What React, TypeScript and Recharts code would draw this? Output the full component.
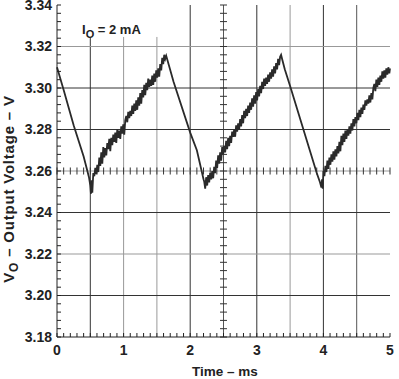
import { LineChart, Line, XAxis, YAxis, ReferenceLine, ReferenceArea } from 'recharts';

// trace pieces, [time ms, volts]
const fall1: [number, number][] = [
  [0, 3.31], [0.1, 3.299], [0.25, 3.282], [0.4, 3.267], [0.48, 3.257], [0.5, 3.253],
];
const rise1: [number, number][] = [
  [0.51, 3.249], [0.52, 3.2555], [0.53, 3.2495], [0.545, 3.259], [0.56, 3.2575], [0.575, 3.2615],
  [0.59, 3.2585], [0.605, 3.263], [0.62, 3.2595], [0.635, 3.2665], [0.65, 3.2625], [0.665, 3.269],
  [0.68, 3.2635], [0.695, 3.2715], [0.71, 3.2665], [0.725, 3.271], [0.74, 3.2675], [0.755, 3.2735],
  [0.77, 3.2705], [0.785, 3.2755], [0.8, 3.2695], [0.815, 3.276], [0.83, 3.2725], [0.845, 3.2775],
  [0.86, 3.274], [0.875, 3.2785], [0.89, 3.2735], [0.905, 3.28], [0.92, 3.276], [0.935, 3.2795],
  [0.95, 3.2755], [0.965, 3.2815], [0.98, 3.278], [0.995, 3.2825], [1.01, 3.2775], [1.025, 3.2845],
  [1.04, 3.2865], [1.055, 3.2835], [1.07, 3.2885], [1.085, 3.2855], [1.1, 3.289], [1.115, 3.2865],
  [1.13, 3.2915], [1.145, 3.2875], [1.16, 3.2925], [1.175, 3.289], [1.19, 3.294], [1.205, 3.2895],
  [1.22, 3.2955], [1.235, 3.2915], [1.25, 3.2975], [1.265, 3.2925], [1.28, 3.299], [1.295, 3.2955],
  [1.31, 3.3015], [1.325, 3.2965], [1.34, 3.3025], [1.355, 3.299], [1.37, 3.3045], [1.385, 3.3005],
  [1.4, 3.304], [1.415, 3.301], [1.43, 3.306], [1.445, 3.3015], [1.46, 3.307], [1.475, 3.303],
  [1.49, 3.3085], [1.505, 3.305], [1.52, 3.3095], [1.535, 3.3055], [1.55, 3.3115], [1.565, 3.3085],
  [1.58, 3.3145], [1.595, 3.3115], [1.61, 3.316], [1.625, 3.314], [1.64, 3.3155],
];
const fall2: [number, number][] = [
  [1.68, 3.311], [1.75, 3.303], [2.0, 3.2785], [2.1, 3.27], [2.2, 3.256],
];
const rise2: [number, number][] = [
  [2.21, 3.255], [2.225, 3.2515], [2.24, 3.257], [2.255, 3.253], [2.27, 3.258], [2.285, 3.2545],
  [2.3, 3.259], [2.315, 3.256], [2.33, 3.26], [2.345, 3.2565], [2.36, 3.262], [2.375, 3.259],
  [2.39, 3.265], [2.405, 3.2615], [2.42, 3.2675], [2.435, 3.2635], [2.45, 3.269], [2.465, 3.265],
  [2.48, 3.2715], [2.495, 3.268], [2.51, 3.272], [2.525, 3.269], [2.54, 3.2745], [2.555, 3.2705],
  [2.57, 3.276], [2.585, 3.272], [2.6, 3.277], [2.615, 3.2735], [2.63, 3.279], [2.645, 3.2765],
  [2.66, 3.28], [2.675, 3.2765], [2.69, 3.282], [2.705, 3.279], [2.72, 3.283], [2.735, 3.28],
  [2.75, 3.285], [2.765, 3.2815], [2.78, 3.287], [2.795, 3.283], [2.81, 3.289], [2.825, 3.2855],
  [2.84, 3.29], [2.855, 3.2865], [2.87, 3.2915], [2.885, 3.288], [2.9, 3.293], [2.915, 3.2895],
  [2.93, 3.295], [2.945, 3.291], [2.96, 3.2965], [2.975, 3.2925], [2.99, 3.298], [3.005, 3.294],
  [3.02, 3.2995], [3.035, 3.296], [3.05, 3.301], [3.065, 3.2975], [3.08, 3.303], [3.095, 3.2995],
  [3.11, 3.3045], [3.125, 3.301], [3.14, 3.305], [3.155, 3.302], [3.17, 3.3065], [3.185, 3.303],
  [3.2, 3.3075], [3.215, 3.3045], [3.23, 3.309], [3.245, 3.3055], [3.26, 3.3105], [3.275, 3.307],
  [3.29, 3.312], [3.305, 3.309], [3.32, 3.314], [3.335, 3.311], [3.35, 3.315], [3.365, 3.316],
  [3.38, 3.314],
];
const fall3: [number, number][] = [
  [3.42, 3.309], [3.5, 3.301], [3.8, 3.2695], [3.9, 3.259], [3.95, 3.2545], [3.97, 3.252],
];
const rise3: [number, number][] = [
  [3.98, 3.256], [3.99, 3.2515], [4.0, 3.26], [4.015, 3.2575], [4.03, 3.2625], [4.045, 3.2595],
  [4.06, 3.265], [4.075, 3.261], [4.09, 3.2665], [4.105, 3.263], [4.12, 3.268], [4.135, 3.2645],
  [4.15, 3.2695], [4.165, 3.2655], [4.18, 3.2705], [4.195, 3.267], [4.21, 3.272], [4.225, 3.2685],
  [4.24, 3.274], [4.255, 3.2695], [4.27, 3.277], [4.285, 3.2725], [4.3, 3.278], [4.315, 3.274],
  [4.33, 3.2795], [4.345, 3.2755], [4.36, 3.28], [4.375, 3.277], [4.39, 3.2815], [4.405, 3.278],
  [4.42, 3.283], [4.435, 3.2795], [4.45, 3.285], [4.465, 3.2815], [4.48, 3.286], [4.495, 3.283],
  [4.51, 3.288], [4.525, 3.2845], [4.54, 3.2895], [4.555, 3.286], [4.57, 3.2905], [4.585, 3.2875],
  [4.6, 3.292], [4.615, 3.2895], [4.63, 3.294], [4.645, 3.2915], [4.66, 3.2945], [4.675, 3.2925],
  [4.69, 3.2965], [4.705, 3.293], [4.72, 3.2975], [4.735, 3.2945], [4.75, 3.3], [4.765, 3.302],
  [4.78, 3.2985], [4.795, 3.304], [4.81, 3.3005], [4.825, 3.305], [4.84, 3.3015], [4.855, 3.306],
  [4.87, 3.303], [4.885, 3.308], [4.9, 3.3045], [4.915, 3.3085], [4.93, 3.305], [4.945, 3.3095],
  [4.96, 3.3065], [4.975, 3.31], [4.99, 3.307], [5.0, 3.3095],
];

const xTicks = [0, 1, 2, 3, 4, 5];
const yTicks = [3.18, 3.2, 3.22, 3.24, 3.26, 3.28, 3.3, 3.32, 3.34];

// scope-style grid, some lines printed lighter than others
const gridX = [0.5, 1, 1.5, 2, 2.5, 3, 3.5, 4, 4.5];
const gridXColor = ['#333', '#999', '#999', '#333', '#555', '#333', '#999', '#333', '#555'];
const gridXTop = [3.3246, 3.3246, 3.3246, 3.34, 3.34, 3.34, 3.34, 3.34, 3.34];
const gridY = [3.2, 3.22, 3.24, 3.26, 3.28, 3.3, 3.32];
const gridYColor = ['#333', '#999', '#333', '#999', '#333', '#333', '#999'];

const minorX = Array.from({ length: 51 }, (_, i) => Math.round(i) / 10);
const minorY = Array.from({ length: 41 }, (_, i) => Math.round((3.18 + i * 0.004) * 1000) / 1000);

const data = [...fall1, ...rise1, ...fall2, ...rise2, ...fall3, ...rise3].map(([t, v]) => ({ t, v }));

const font = '"Liberation Sans", Arial, sans-serif';
const tickStyle = { fontSize: 14, fontWeight: 700, fill: '#222', fontFamily: font };

const isMajorY = (v: number) => yTicks.some((m) => Math.abs(m - v) < 1e-6);
const isMajorX = (v: number) => xTicks.some((m) => Math.abs(m - v) < 1e-6);

function YTitle() {
  return (
    <text x={14} y={189} transform="rotate(-90 14 189)" textAnchor="middle"
      style={{ fontSize: 15, fontWeight: 700, fill: '#222', fontFamily: font, letterSpacing: 0.8 }}>
      V<tspan dy={4} fontSize={12}>O</tspan><tspan dy={-4}> – Output Voltage – V</tspan>
    </text>
  );
}

function XTitle() {
  return (
    <text x={225} y={376} textAnchor="middle"
      style={{ fontSize: 13.5, fontWeight: 700, fill: '#222', fontFamily: font }}>
      Time – ms
    </text>
  );
}

export default function App() {
  return (
    <div style={{ position: 'absolute', left: 0, top: 0, width: 399, height: 379, background: '#fff' }}>
      <LineChart width={399} height={379} data={data} margin={{ top: 5, right: 9, left: 0, bottom: 0 }}>
        <XAxis dataKey="t" type="number" domain={[0, 5]} ticks={minorX} interval={0}
          tickSize={-4} tickMargin={12} height={42} stroke="#222"
          tick={tickStyle} tickFormatter={(v: number) => (isMajorX(v) ? String(v) : '')}
          label={{ content: () => <XTitle /> }} />
        <XAxis xAxisId="top" orientation="top" type="number" domain={[0, 5]} ticks={minorX}
          interval={0} tickSize={-4} height={0} stroke="#222" tickFormatter={() => ''} />
        <YAxis type="number" domain={[3.18, 3.34]} ticks={minorY} interval={0} width={57}
          tickSize={-4} tickMargin={9} stroke="#222" tick={tickStyle}
          tickFormatter={(v: number) => (isMajorY(v) ? v.toFixed(2) : '')}
          label={{ content: () => <YTitle /> }} />
        <YAxis yAxisId="right" orientation="right" type="number" domain={[3.18, 3.34]} ticks={minorY}
          interval={0} width={0} tickSize={-4} stroke="#222" tickFormatter={() => ''} />

        {gridX.map((x, i) => (
          <ReferenceLine key={`gx${x}`} segment={[{ x, y: 3.18 }, { x, y: gridXTop[i] }]}
            stroke={gridXColor[i]} strokeWidth={1} />
        ))}
        {gridY.map((y, i) => (
          <ReferenceLine key={`gy${y}`} y={y} stroke={gridYColor[i]} strokeWidth={1} />
        ))}
        {minorX.map((x) => (
          <ReferenceLine key={`cx${x}`} segment={[{ x, y: 3.2583 }, { x, y: 3.2617 }]}
            stroke="#333" strokeWidth={1} />
        ))}
        {minorY.map((y) => (
          <ReferenceLine key={`cy${y}`} segment={[{ x: 2.4475, y }, { x: 2.5525, y }]}
            stroke="#333" strokeWidth={1} />
        ))}
        <ReferenceArea x1={0.08} x2={1.94} y1={3.3248} y2={3.3384} fill="#fff" fillOpacity={1}
          stroke="none" />

        <Line dataKey="v" type="linear" stroke="#2a2a2a" strokeWidth={1.8} dot={false}
          isAnimationActive={false} />
      </LineChart>
      <div style={{ position: 'absolute', zIndex: 6, left: 82, top: 24, fontFamily: font, fontWeight: 700,
        fontSize: 13, lineHeight: '12px', color: '#222', whiteSpace: 'nowrap' }}>
        I<span style={{ fontSize: 11, position: 'relative', top: 4 }}>O</span> = 2 mA
      </div>
    </div>
  );
}
